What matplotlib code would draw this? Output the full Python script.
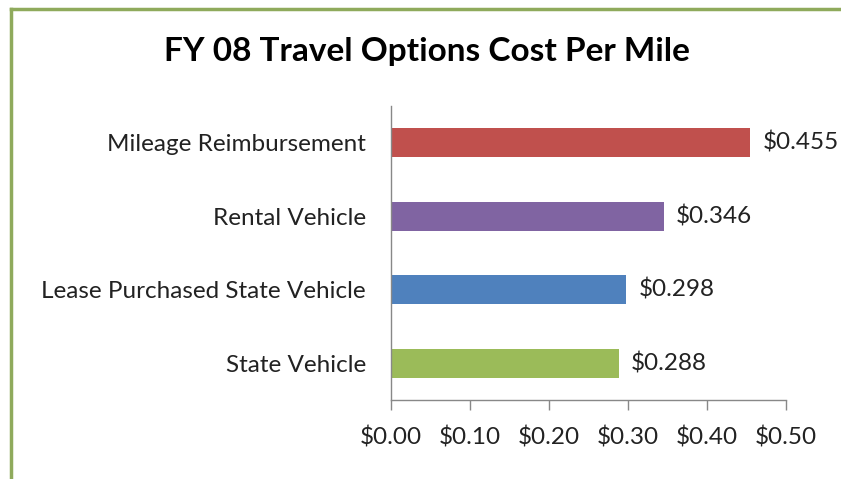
import matplotlib
matplotlib.use("Agg")
import matplotlib.pyplot as plt
from matplotlib.lines import Line2D

categories = ["State Vehicle", "Lease Purchased State Vehicle", "Rental Vehicle", "Mileage Reimbursement"]
values = [0.288, 0.298, 0.346, 0.455]
colors = ["#9BBB59", "#4F81BD", "#8064A2", "#C0504D"]
xticks = [0.0, 0.1, 0.2, 0.3, 0.4, 0.5]
title = "FY 08 Travel Options Cost Per Mile"

W, H = 841, 479
fig = plt.figure(figsize=(W / 100, H / 100), dpi=100)
font = "Lato"

ax = fig.add_axes([391 / W, 1 - 400 / H, (786 - 391) / W, (400 - 106) / H])
ax.barh(range(len(categories)), values, height=0.4, color=colors)
ax.set_xlim(0, 0.5)
ax.set_ylim(-0.5, len(categories) - 0.5)
ax.set_xticks(xticks)
ax.set_xticklabels([f"${t:.2f}" for t in xticks], fontsize=17.5, family=font, color="#222222")
ax.set_yticks(range(len(categories)))
ax.set_yticklabels(categories, fontsize=17.5, family=font, color="#222222")
ax.tick_params(axis="y", length=0, pad=18)
ax.tick_params(axis="x", length=7, width=1, color="#888888", pad=12, direction="out")
for s in ["top", "right"]:
    ax.spines[s].set_visible(False)
for s in ["left", "bottom"]:
    ax.spines[s].set_color("#888888")
    ax.spines[s].set_linewidth(1)

for i, v in enumerate(values):
    ax.text(v + 0.015, i, f"${v:.3f}", va="center", ha="left", fontsize=17.5, family=font, color="#222222")

fig.text(427 / W, 1 - 52 / H, title, ha="center", va="center", fontsize=24, fontweight="bold", family=font)

border = "#8FAA5C"
fig.add_artist(Line2D([11 / W, 11 / W], [0, 1 - 9 / H], color=border, lw=2.5, transform=fig.transFigure))
fig.add_artist(Line2D([11 / W, 1], [1 - 9 / H, 1 - 9 / H], color=border, lw=2.5, transform=fig.transFigure))

fig.savefig("out.png", dpi=100)
